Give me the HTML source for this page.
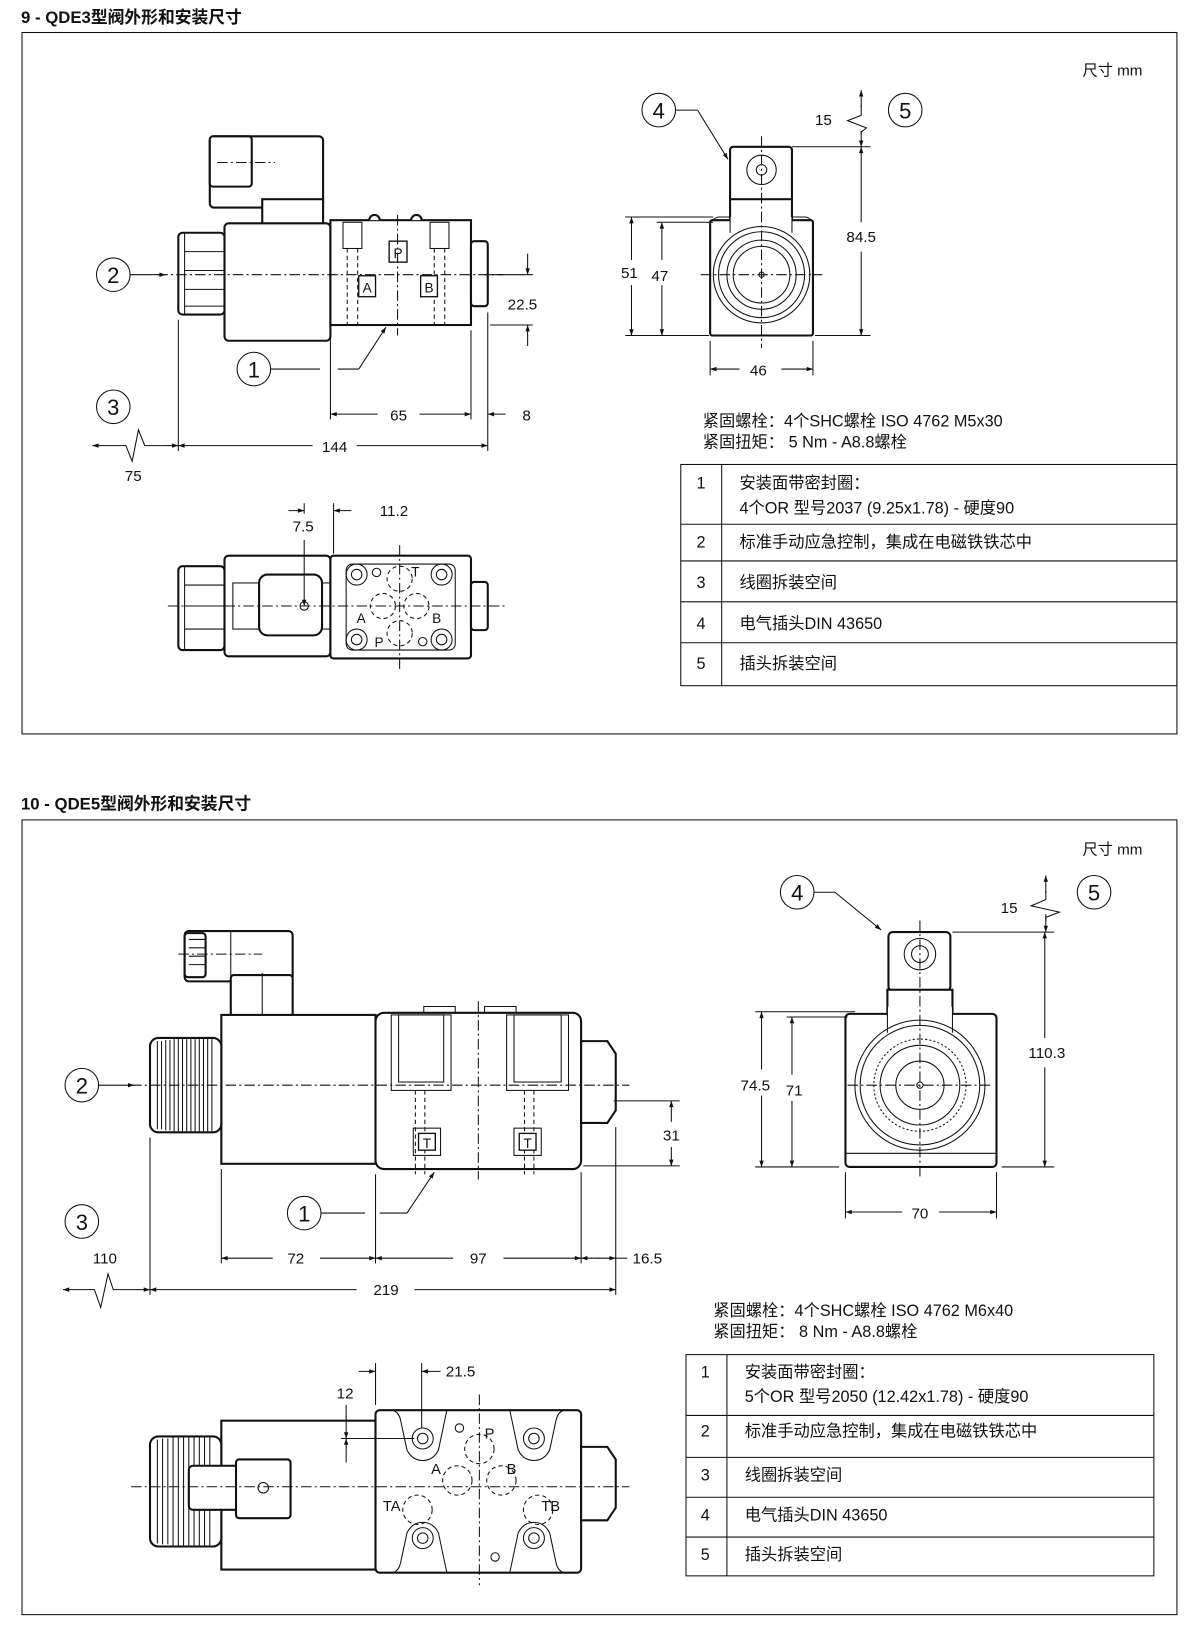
<!DOCTYPE html>
<html><head><meta charset="utf-8"><style>
html,body{margin:0;padding:0;background:#fff}
svg{display:block}
text{font-family:"Liberation Sans","Noto Sans CJK SC",sans-serif;fill:#111}
.l{stroke:#111;fill:none;stroke-width:1}
.b{stroke:#111;fill:#fff;stroke-width:2}
.d{stroke:#111;fill:none;stroke-width:1;stroke-dasharray:10 3 2 3}
.h{stroke:#111;fill:none;stroke-width:1;stroke-dasharray:4 3}
.c{stroke:#111;fill:#fff;stroke-width:1.3}
</style></head><body>
<svg width="1200" height="1644" viewBox="0 0 1144 1568" preserveAspectRatio="none" xmlns="http://www.w3.org/2000/svg">
<defs>
<marker id="a" viewBox="0 0 10 10" refX="10" refY="5" markerWidth="9" markerHeight="6" orient="auto-start-reverse" markerUnits="userSpaceOnUse"><path d="M0,1.5 L10,5 L0,8.5z" fill="#111"/></marker>
</defs>
<!-- ================= SECTION 1 ================= -->
<text x="20" y="22" font-size="16" font-weight="bold">9 - QDE3型阀外形和安装尺寸</text>
<rect x="21" y="31" width="1101" height="669" class="l" stroke-width="1.4"/>
<text x="1032" y="72" font-size="14.5">尺寸  mm</text>

<!-- side view -->
<rect x="200" y="130" width="108" height="68" rx="4" class="b"/>
<rect x="200" y="130" width="40" height="48" rx="3" class="b"/>
<line x1="207" y1="155" x2="262" y2="155" class="d"/>
<rect x="250" y="190" width="58" height="38" class="b"/>
<rect x="214" y="213" width="101" height="112" rx="4" class="b"/>
<rect x="170" y="222" width="44" height="78" rx="4" class="b"/>
<line x1="176" y1="240" x2="214" y2="240" class="l"/><line x1="176" y1="258" x2="214" y2="258" class="l"/><line x1="176" y1="276" x2="214" y2="276" class="l"/><line x1="176" y1="292" x2="214" y2="292" class="l"/>
<line x1="176" y1="222" x2="176" y2="300" class="l"/>
<rect x="315" y="210" width="134" height="100" class="b"/>
<path d="M352,210 a5,5 0 0 1 10,0 M392,210 a5,5 0 0 1 10,0" class="b"/>
<rect x="449" y="230" width="16" height="62" rx="3" class="b"/>
<rect x="327" y="212" width="18" height="25" class="l"/><rect x="410" y="212" width="18" height="25" class="l"/>
<line x1="331" y1="237" x2="331" y2="310" class="h"/><line x1="341" y1="237" x2="341" y2="310" class="h"/>
<line x1="414" y1="237" x2="414" y2="310" class="h"/><line x1="424" y1="237" x2="424" y2="310" class="h"/>
<rect x="371" y="230" width="17" height="20" class="c"/><text x="379.5" y="246" font-size="13" text-anchor="middle">P</text>
<rect x="342" y="263" width="16" height="20" class="c"/><text x="350" y="279" font-size="13" text-anchor="middle">A</text>
<rect x="401" y="263" width="16" height="20" class="c"/><text x="409" y="279" font-size="13" text-anchor="middle">B</text>
<line x1="379" y1="205" x2="379" y2="320" class="d"/>
<line x1="150" y1="262" x2="480" y2="262" class="d"/>
<circle cx="108" cy="262" r="16" class="l" stroke-width="1.5"/><text x="108" y="270" font-size="21" text-anchor="middle">2</text>
<line x1="124" y1="262" x2="158" y2="262" class="l" marker-end="url(#a)"/>
<line x1="462" y1="262" x2="508" y2="262" class="l"/><line x1="467" y1="310" x2="508" y2="310" class="l"/>
<line x1="503" y1="242" x2="503" y2="262" class="l" marker-end="url(#a)"/><line x1="503" y1="330" x2="503" y2="310" class="l" marker-end="url(#a)"/>
<text x="484" y="295" font-size="14.5">22.5</text>
<circle cx="242" cy="352" r="16" class="l" stroke-width="1.5"/><text x="242" y="360" font-size="21" text-anchor="middle">1</text>
<line x1="258" y1="352" x2="305" y2="352" class="l"/><line x1="322" y1="352" x2="342" y2="352" class="l"/>
<line x1="342" y1="352" x2="368" y2="312" class="l" marker-end="url(#a)"/>
<line x1="170" y1="305" x2="170" y2="430" class="l"/><line x1="315" y1="315" x2="315" y2="400" class="l"/>
<line x1="449" y1="315" x2="449" y2="400" class="l"/><line x1="465" y1="298" x2="465" y2="430" class="l"/>
<line x1="360" y1="395" x2="315" y2="395" class="l" marker-end="url(#a)"/><line x1="400" y1="395" x2="449" y2="395" class="l" marker-end="url(#a)"/>
<line x1="482" y1="395" x2="465" y2="395" class="l" marker-end="url(#a)"/>
<text x="380" y="401" font-size="14.5" text-anchor="middle">65</text><text x="502" y="401" font-size="14.5" text-anchor="middle">8</text>
<line x1="298" y1="425" x2="170" y2="425" class="l" marker-end="url(#a)"/><line x1="340" y1="425" x2="465" y2="425" class="l" marker-end="url(#a)"/>
<text x="319" y="431" font-size="14.5" text-anchor="middle">144</text>
<circle cx="108" cy="388" r="16" class="l" stroke-width="1.5"/><text x="108" y="396" font-size="21" text-anchor="middle">3</text>
<polyline points="105,425 120,425 126,440 132,410 138,425 155,425" class="l"/>
<line x1="105" y1="425" x2="88" y2="425" class="l" marker-end="url(#a)"/><line x1="155" y1="425" x2="170" y2="425" class="l" marker-end="url(#a)"/>
<text x="127" y="459" font-size="14.5" text-anchor="middle">75</text>

<!-- bottom view -->
<rect x="214" y="530" width="101" height="96" rx="4" class="b"/>
<rect x="170" y="540" width="44" height="80" rx="4" class="b"/>
<line x1="176" y1="540" x2="176" y2="620" class="l"/>
<line x1="176" y1="558" x2="214" y2="558" class="l"/><line x1="176" y1="578" x2="214" y2="578" class="l"/><line x1="176" y1="600" x2="214" y2="600" class="l"/>
<rect x="222" y="556" width="93" height="44" class="l"/>
<rect x="247" y="548" width="60" height="58" rx="8" class="b"/>
<circle cx="290" cy="578" r="4" class="l"/>
<rect x="315" y="530" width="134" height="98" rx="3" class="b"/>
<rect x="330" y="538" width="104" height="82" rx="6" class="l"/>
<rect x="449" y="555" width="16" height="46" rx="3" class="b"/>
<g class="l"><circle cx="340" cy="548" r="10"/><circle cx="340" cy="548" r="5"/><circle cx="421" cy="548" r="10"/><circle cx="421" cy="548" r="5"/><circle cx="340" cy="610" r="10"/><circle cx="340" cy="610" r="5"/><circle cx="421" cy="610" r="10"/><circle cx="421" cy="610" r="5"/></g>
<g class="h"><circle cx="381" cy="552" r="12"/><circle cx="365" cy="578" r="12"/><circle cx="397" cy="578" r="12"/><circle cx="381" cy="604" r="12"/></g>
<circle cx="359" cy="546" r="4" class="l"/><circle cx="403" cy="612" r="4" class="l"/>
<text x="392" y="550" font-size="13">T</text><text x="340" y="594" font-size="13">A</text><text x="412" y="594" font-size="13">B</text><text x="357" y="617" font-size="13">P</text>
<line x1="160" y1="578" x2="482" y2="578" class="d"/><line x1="381" y1="520" x2="381" y2="640" class="d"/>
<line x1="290" y1="480" x2="290" y2="490" class="l"/><line x1="318" y1="480" x2="318" y2="528" class="l"/>
<line x1="275" y1="487" x2="290" y2="487" class="l" marker-end="url(#a)"/><line x1="335" y1="487" x2="318" y2="487" class="l" marker-end="url(#a)"/>
<text x="362" y="492" font-size="14.5">11.2</text>
<line x1="290" y1="515" x2="290" y2="578" class="l" marker-end="url(#a)"/>
<text x="289" y="507" font-size="14.5" text-anchor="middle">7.5</text>

<!-- right view -->
<circle cx="628" cy="105" r="16" class="l" stroke-width="1.5"/><text x="628" y="113" font-size="21" text-anchor="middle">4</text>
<line x1="644" y1="105" x2="665" y2="105" class="l"/><line x1="665" y1="105" x2="694" y2="152" class="l" marker-end="url(#a)"/>
<circle cx="863" cy="105" r="16" class="l" stroke-width="1.5"/><text x="863" y="113" font-size="21" text-anchor="middle">5</text>
<text x="785" y="119" font-size="14.5" text-anchor="middle">15</text>
<polyline points="821,100 821,110 808,115 826,122 821,126 821,128" class="l"/>
<line x1="821" y1="102" x2="821" y2="86" class="l" marker-end="url(#a)"/>
<line x1="821" y1="125" x2="821" y2="140" class="l" marker-end="url(#a)"/>
<rect x="696" y="140" width="59" height="52" rx="3" class="b"/>
<circle cx="726" cy="162" r="14" class="l"/><circle cx="726" cy="162" r="5" class="l"/>
<rect x="696" y="190" width="59" height="20" class="b"/>
<path d="M678,215 a8,8 0 0 1 8,-8 h10 M755,207 h12 a8,8 0 0 1 8,8" class="l" stroke-width="2"/>
<rect x="677" y="210" width="98" height="110" rx="2" class="b"/>
<rect x="696" y="207" width="59" height="10" fill="#fff" stroke="none"/>
<line x1="696" y1="207" x2="696" y2="222" class="l" stroke-width="2"/><line x1="755" y1="207" x2="755" y2="222" class="l" stroke-width="2"/>
<circle cx="726" cy="262" r="46" class="l" stroke-width="2"/><circle cx="726" cy="262" r="41" class="l"/><circle cx="726" cy="262" r="33" class="l" stroke-width="1.8"/><circle cx="726" cy="262" r="27" class="l"/><circle cx="726" cy="262" r="2.5" class="l"/>
<line x1="668" y1="262" x2="784" y2="262" class="d"/><line x1="726" y1="130" x2="726" y2="332" class="d"/>
<line x1="755" y1="140" x2="830" y2="140" class="l"/><line x1="777" y1="320" x2="830" y2="320" class="l"/>
<line x1="821" y1="212" x2="821" y2="140" class="l" marker-end="url(#a)"/><line x1="821" y1="240" x2="821" y2="320" class="l" marker-end="url(#a)"/>
<text x="821" y="231" font-size="14.5" text-anchor="middle">84.5</text>
<line x1="596" y1="207" x2="680" y2="207" class="l"/><line x1="626" y1="212" x2="680" y2="212" class="l"/><line x1="596" y1="320" x2="676" y2="320" class="l"/>
<line x1="602" y1="248" x2="602" y2="207" class="l" marker-end="url(#a)"/><line x1="602" y1="272" x2="602" y2="320" class="l" marker-end="url(#a)"/>
<line x1="631" y1="248" x2="631" y2="212" class="l" marker-end="url(#a)"/><line x1="631" y1="272" x2="631" y2="320" class="l" marker-end="url(#a)"/>
<text x="592" y="265" font-size="14.5">51</text><text x="621" y="268" font-size="14.5">47</text>
<line x1="677" y1="325" x2="677" y2="358" class="l"/><line x1="775" y1="325" x2="775" y2="358" class="l"/>
<line x1="705" y1="352" x2="677" y2="352" class="l" marker-end="url(#a)"/><line x1="745" y1="352" x2="775" y2="352" class="l" marker-end="url(#a)"/>
<text x="723" y="358" font-size="14.5" text-anchor="middle">46</text>

<text x="670" y="407" font-size="15.5">紧固螺栓：4个SHC螺栓 ISO 4762 M5x30</text>
<text x="670" y="427" font-size="15.5">紧固扭矩：  5 Nm - A8.8螺栓</text>
<rect x="649" y="443" width="473" height="211" class="l" stroke-width="1.3"/>
<g class="l" stroke-width="1.3"><line x1="688" y1="443" x2="688" y2="654"/><line x1="649" y1="500" x2="1122" y2="500"/><line x1="649" y1="535" x2="1122" y2="535"/><line x1="649" y1="574" x2="1122" y2="574"/><line x1="649" y1="613" x2="1122" y2="613"/></g>
<g font-size="15.5"><text x="664" y="466">1</text><text x="705" y="466">安装面带密封圈：</text><text x="705" y="490">4个OR  型号2037 (9.25x1.78) - 硬度90</text>
<text x="664" y="522">2</text><text x="705" y="522">标准手动应急控制，集成在电磁铁铁芯中</text>
<text x="664" y="561">3</text><text x="705" y="561">线圈拆装空间</text>
<text x="664" y="600">4</text><text x="705" y="600">电气插头DIN 43650</text>
<text x="664" y="638">5</text><text x="705" y="638">插头拆装空间</text></g>

<!-- ================= SECTION 2 ================= -->
<text x="20" y="772" font-size="16" font-weight="bold">10 - QDE5型阀外形和安装尺寸</text>
<rect x="21" y="782" width="1101" height="758" class="l" stroke-width="1.4"/>
<text x="1032" y="815" font-size="14.5">尺寸  mm</text>

<rect x="176" y="888" width="103" height="48" rx="4" class="b"/>
<rect x="176" y="890" width="20" height="42" rx="3" class="b"/>
<line x1="180" y1="896" x2="196" y2="896" class="l"/><line x1="180" y1="904" x2="196" y2="904" class="l"/><line x1="180" y1="912" x2="196" y2="912" class="l"/><line x1="180" y1="920" x2="196" y2="920" class="l"/>
<rect x="220" y="930" width="59" height="55" rx="3" class="b"/>
<line x1="220" y1="888" x2="220" y2="935" class="l"/>
<line x1="170" y1="910" x2="250" y2="910" class="d"/><line x1="250" y1="928" x2="250" y2="985" class="l"/>
<rect x="211" y="968" width="147" height="142" class="b"/>
<rect x="143" y="990" width="68" height="90" rx="8" class="b"/>
<g class="l" stroke-width="0.8">
<line x1="150" y1="993" x2="150" y2="1077"/><line x1="154" y1="993" x2="154" y2="1077"/><line x1="158" y1="992" x2="158" y2="1078"/><line x1="162" y1="992" x2="162" y2="1078"/><line x1="166" y1="991" x2="166" y2="1079"/><line x1="170" y1="991" x2="170" y2="1079"/><line x1="174" y1="991" x2="174" y2="1079"/><line x1="178" y1="991" x2="178" y2="1079"/><line x1="182" y1="991" x2="182" y2="1079"/><line x1="186" y1="991" x2="186" y2="1079"/><line x1="190" y1="991" x2="190" y2="1079"/><line x1="194" y1="991" x2="194" y2="1079"/><line x1="198" y1="991" x2="198" y2="1079"/><line x1="202" y1="991" x2="202" y2="1079"/></g>
<rect x="358" y="966" width="196" height="149" rx="8" class="b"/>
<path d="M404,966 v-6 h30 v6 M462,966 v-6 h30 v6" class="l" stroke-width="1.5"/>
<rect x="373" y="968" width="57" height="72" class="l"/><rect x="380" y="968" width="43" height="64" class="l"/>
<rect x="483" y="968" width="59" height="72" class="l"/><rect x="490" y="968" width="45" height="64" class="l"/>
<line x1="396" y1="1040" x2="396" y2="1120" class="h"/><line x1="405" y1="1040" x2="405" y2="1120" class="h"/>
<line x1="500" y1="1040" x2="500" y2="1120" class="h"/><line x1="509" y1="1040" x2="509" y2="1120" class="h"/>
<rect x="394" y="1076" width="26" height="26" class="l" stroke-width="1.5"/><rect x="399" y="1081" width="16" height="16" class="c"/><text x="407" y="1095" font-size="13" text-anchor="middle">T</text>
<rect x="490" y="1076" width="26" height="26" class="l" stroke-width="1.5"/><rect x="495" y="1081" width="16" height="16" class="c"/><text x="503" y="1095" font-size="13" text-anchor="middle">T</text>
<path d="M554,993 h25 l8,12 v54 l-8,12 h-25z" class="b"/>
<line x1="456" y1="955" x2="456" y2="1125" class="d"/>
<line x1="125" y1="1035" x2="600" y2="1035" class="d"/>
<circle cx="78" cy="1035" r="16" class="l" stroke-width="1.5"/><text x="78" y="1043" font-size="21" text-anchor="middle">2</text>
<line x1="94" y1="1035" x2="128" y2="1035" class="l" marker-end="url(#a)"/>
<line x1="585" y1="1050" x2="648" y2="1050" class="l"/><line x1="556" y1="1112" x2="648" y2="1112" class="l"/>
<line x1="640" y1="1070" x2="640" y2="1050" class="l" marker-end="url(#a)"/><line x1="640" y1="1094" x2="640" y2="1112" class="l" marker-end="url(#a)"/>
<text x="632" y="1088" font-size="14.5">31</text>
<circle cx="290" cy="1157" r="16" class="l" stroke-width="1.5"/><text x="290" y="1165" font-size="21" text-anchor="middle">1</text>
<line x1="306" y1="1157" x2="348" y2="1157" class="l"/><line x1="362" y1="1157" x2="388" y2="1157" class="l"/>
<line x1="388" y1="1157" x2="414" y2="1118" class="l" marker-end="url(#a)"/>
<circle cx="78" cy="1165" r="16" class="l" stroke-width="1.5"/><text x="78" y="1173" font-size="21" text-anchor="middle">3</text>
<line x1="143" y1="1085" x2="143" y2="1235" class="l"/><line x1="211" y1="1115" x2="211" y2="1205" class="l"/>
<line x1="358" y1="1120" x2="358" y2="1205" class="l"/><line x1="554" y1="1118" x2="554" y2="1205" class="l"/><line x1="587" y1="1075" x2="587" y2="1235" class="l"/>
<line x1="260" y1="1200" x2="211" y2="1200" class="l" marker-end="url(#a)"/><line x1="305" y1="1200" x2="358" y2="1200" class="l" marker-end="url(#a)"/>
<text x="282" y="1205" font-size="14.5" text-anchor="middle">72</text>
<line x1="432" y1="1200" x2="358" y2="1200" class="l" marker-end="url(#a)"/><line x1="480" y1="1200" x2="554" y2="1200" class="l" marker-end="url(#a)"/>
<text x="456" y="1205" font-size="14.5" text-anchor="middle">97</text>
<line x1="571" y1="1200" x2="554" y2="1200" class="l" marker-end="url(#a)"/><line x1="570" y1="1200" x2="587" y2="1200" class="l" marker-end="url(#a)"/>
<line x1="587" y1="1200" x2="598" y2="1200" class="l"/>
<text x="603" y="1205" font-size="14.5">16.5</text>
<line x1="340" y1="1230" x2="143" y2="1230" class="l" marker-end="url(#a)"/><line x1="395" y1="1230" x2="587" y2="1230" class="l" marker-end="url(#a)"/>
<text x="368" y="1235" font-size="14.5" text-anchor="middle">219</text>
<polyline points="75,1230 90,1230 96,1247 103,1215 108,1230 128,1230" class="l"/>
<line x1="75" y1="1230" x2="60" y2="1230" class="l" marker-end="url(#a)"/><line x1="128" y1="1230" x2="143" y2="1230" class="l" marker-end="url(#a)"/>
<text x="100" y="1205" font-size="14.5" text-anchor="middle">110</text>

<rect x="211" y="1355" width="147" height="142" class="b"/>
<rect x="143" y="1370" width="68" height="105" rx="8" class="b"/>
<g class="l" stroke-width="0.8">
<line x1="150" y1="1373" x2="150" y2="1472"/><line x1="155" y1="1372" x2="155" y2="1473"/><line x1="160" y1="1372" x2="160" y2="1473"/><line x1="165" y1="1371" x2="165" y2="1474"/><line x1="170" y1="1371" x2="170" y2="1474"/><line x1="175" y1="1371" x2="175" y2="1474"/><line x1="180" y1="1371" x2="180" y2="1474"/><line x1="185" y1="1371" x2="185" y2="1474"/><line x1="190" y1="1371" x2="190" y2="1474"/><line x1="195" y1="1371" x2="195" y2="1474"/><line x1="200" y1="1371" x2="200" y2="1474"/></g>
<rect x="180" y="1398" width="48" height="42" rx="4" class="b"/>
<rect x="225" y="1392" width="52" height="56" rx="3" class="b"/>
<circle cx="251" cy="1419" r="5" class="l" stroke-width="1.5"/>
<rect x="358" y="1345" width="196" height="155" rx="4" class="b"/>
<path d="M372,1345 q8,0 10,10 l6,28 q5,10 15,10 q10,0 15,-10 l8,-38" class="l"/>
<path d="M540,1345 q-8,0 -10,10 l-6,28 q-5,10 -15,10 q-10,0 -15,-10 l-8,-38" class="l"/>
<path d="M372,1500 q8,0 10,-10 l6,-28 q5,-10 15,-10 q10,0 15,10 l8,38" class="l"/>
<path d="M540,1500 q-8,0 -10,-10 l-6,-28 q-5,-10 -15,-10 q-10,0 -15,10 l-8,38" class="l"/>
<g class="l"><circle cx="403" cy="1372" r="10"/><circle cx="403" cy="1372" r="5"/><circle cx="509" cy="1372" r="10"/><circle cx="509" cy="1372" r="5"/><circle cx="403" cy="1467" r="10"/><circle cx="403" cy="1467" r="5"/><circle cx="509" cy="1467" r="10"/><circle cx="509" cy="1467" r="5"/></g>
<g class="h"><circle cx="457" cy="1382" r="14"/><circle cx="436" cy="1412" r="14"/><circle cx="478" cy="1412" r="14"/><circle cx="398" cy="1440" r="14"/><circle cx="513" cy="1440" r="14"/></g>
<circle cx="438" cy="1362" r="4" class="l"/><circle cx="472" cy="1485" r="4" class="l"/>
<text x="462" y="1372" font-size="14">P</text><text x="411" y="1406" font-size="14">A</text><text x="483" y="1406" font-size="14">B</text>
<text x="365" y="1441" font-size="14">TA</text><text x="516" y="1441" font-size="14">TB</text>
<path d="M554,1380 h25 l8,12 v46 l-8,12 h-25z" class="b"/>
<line x1="125" y1="1418" x2="600" y2="1418" class="d"/><line x1="457" y1="1330" x2="457" y2="1512" class="d"/>
<line x1="358" y1="1300" x2="358" y2="1340" class="l"/><line x1="402" y1="1300" x2="402" y2="1362" class="l"/>
<line x1="342" y1="1308" x2="358" y2="1308" class="l" marker-end="url(#a)"/><line x1="420" y1="1308" x2="402" y2="1308" class="l" marker-end="url(#a)"/>
<text x="425" y="1313" font-size="14.5">21.5</text>
<line x1="325" y1="1372" x2="395" y2="1372" class="l"/>
<line x1="330" y1="1350" x2="330" y2="1372" class="l" marker-end="url(#a)"/><line x1="330" y1="1395" x2="330" y2="1372" class="l" marker-end="url(#a)"/>
<line x1="330" y1="1340" x2="330" y2="1352" class="l"/>
<text x="329" y="1334" font-size="14.5" text-anchor="middle">12</text>

<circle cx="760" cy="851" r="16" class="l" stroke-width="1.5"/><text x="760" y="859" font-size="21" text-anchor="middle">4</text>
<line x1="776" y1="851" x2="796" y2="851" class="l"/><line x1="796" y1="851" x2="840" y2="887" class="l" marker-end="url(#a)"/>
<circle cx="1043" cy="851" r="16" class="l" stroke-width="1.5"/><text x="1043" y="859" font-size="21" text-anchor="middle">5</text>
<text x="962" y="871" font-size="14.5" text-anchor="middle">15</text>
<polyline points="997,850 997,858 983,864 1010,870 997,875 997,878" class="l"/>
<line x1="997" y1="852" x2="997" y2="835" class="l" marker-end="url(#a)"/>
<line x1="997" y1="872" x2="997" y2="889" class="l" marker-end="url(#a)"/>
<rect x="847" y="889" width="59" height="56" rx="4" class="b"/>
<circle cx="877" cy="910" r="15" class="l"/><circle cx="877" cy="910" r="8" class="l"/>
<rect x="846" y="944" width="62" height="25" class="b"/>
<rect x="806" y="967" width="144" height="146" rx="4" class="b"/>
<rect x="846" y="960" width="62" height="12" fill="#fff" stroke="none"/>
<line x1="846" y1="944" x2="846" y2="985" class="l" stroke-width="2"/><line x1="908" y1="944" x2="908" y2="985" class="l" stroke-width="2"/>
<line x1="806" y1="1100" x2="950" y2="1100" class="l"/>
<circle cx="877" cy="1035" r="62" class="l" stroke-width="2"/><circle cx="877" cy="1035" r="57" class="l"/>
<circle cx="877" cy="1035" r="44" class="l" stroke-width="3" stroke-dasharray="2 2"/>
<circle cx="877" cy="1035" r="38" class="l"/>
<circle cx="877" cy="1035" r="23" class="l" stroke-width="1.5"/><circle cx="877" cy="1035" r="3" class="l"/>
<line x1="808" y1="1035" x2="946" y2="1035" class="d"/><line x1="877" y1="878" x2="877" y2="1125" class="d"/>
<line x1="908" y1="889" x2="1005" y2="889" class="l"/><line x1="955" y1="1113" x2="1005" y2="1113" class="l"/>
<line x1="996" y1="990" x2="996" y2="889" class="l" marker-end="url(#a)"/><line x1="996" y1="1018" x2="996" y2="1113" class="l" marker-end="url(#a)"/>
<text x="998" y="1009" font-size="14.5" text-anchor="middle">110.3</text>
<line x1="720" y1="965" x2="815" y2="965" class="l"/><line x1="750" y1="970" x2="808" y2="970" class="l"/><line x1="720" y1="1113" x2="800" y2="1113" class="l"/>
<line x1="726" y1="1020" x2="726" y2="965" class="l" marker-end="url(#a)"/><line x1="726" y1="1045" x2="726" y2="1113" class="l" marker-end="url(#a)"/>
<line x1="755" y1="1025" x2="755" y2="970" class="l" marker-end="url(#a)"/><line x1="755" y1="1050" x2="755" y2="1113" class="l" marker-end="url(#a)"/>
<text x="706" y="1040" font-size="14.5">74.5</text><text x="749" y="1045" font-size="14.5">71</text>
<line x1="806" y1="1118" x2="806" y2="1162" class="l"/><line x1="950" y1="1118" x2="950" y2="1162" class="l"/>
<line x1="860" y1="1156" x2="806" y2="1156" class="l" marker-end="url(#a)"/><line x1="895" y1="1156" x2="950" y2="1156" class="l" marker-end="url(#a)"/>
<text x="877" y="1162" font-size="14.5" text-anchor="middle">70</text>

<text x="680" y="1255" font-size="15.5">紧固螺栓：4个SHC螺栓 ISO 4762 M6x40</text>
<text x="680" y="1275" font-size="15.5">紧固扭矩：  8 Nm - A8.8螺栓</text>
<rect x="654" y="1292" width="446" height="211" class="l" stroke-width="1.3"/>
<g class="l" stroke-width="1.3"><line x1="693" y1="1292" x2="693" y2="1503"/><line x1="654" y1="1350" x2="1100" y2="1350"/><line x1="654" y1="1390" x2="1100" y2="1390"/><line x1="654" y1="1428" x2="1100" y2="1428"/><line x1="654" y1="1466" x2="1100" y2="1466"/></g>
<g font-size="15.5"><text x="668" y="1314">1</text><text x="710" y="1314">安装面带密封圈：</text><text x="710" y="1337">5个OR  型号2050 (12.42x1.78) - 硬度90</text>
<text x="668" y="1370">2</text><text x="710" y="1370">标准手动应急控制，集成在电磁铁铁芯中</text>
<text x="668" y="1412">3</text><text x="710" y="1412">线圈拆装空间</text>
<text x="668" y="1450">4</text><text x="710" y="1450">电气插头DIN 43650</text>
<text x="668" y="1488">5</text><text x="710" y="1488">插头拆装空间</text></g>
</svg>
</body></html>
